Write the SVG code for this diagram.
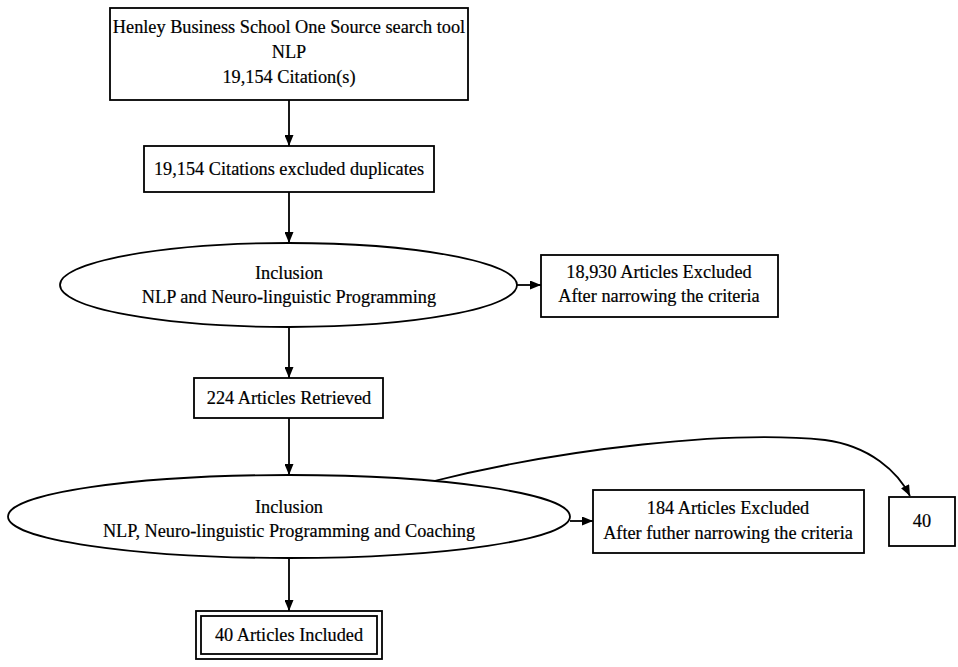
<svg xmlns="http://www.w3.org/2000/svg" width="958" height="667" viewBox="0 0 958 667">
<defs>
<style>
.n{fill:#fff;stroke:#000;stroke-width:1.8}
.t{font-family:"Liberation Serif",serif;font-size:18.3px;fill:#000;text-anchor:middle;stroke:#000;stroke-width:0.2}
.e{fill:none;stroke:#000;stroke-width:1.8}
</style>
<marker id="ah" markerWidth="11" markerHeight="9" refX="11" refY="4.5" orient="auto" markerUnits="userSpaceOnUse">
<path d="M0,0 L11,4.5 L0,9 z" fill="#000"/>
</marker>
</defs>
<rect width="958" height="667" fill="#fff"/>
<g id="connectors">
<path class="e" d="M289,100 V146" marker-end="url(#ah)"/>
<path class="e" d="M289,192 V243" marker-end="url(#ah)"/>
<path class="e" d="M517,285 H541" marker-end="url(#ah)"/>
<path class="e" d="M289,327 V378" marker-end="url(#ah)"/>
<path class="e" d="M289,418 V475" marker-end="url(#ah)"/>
<path class="e" d="M570,521 H593" marker-end="url(#ah)"/>
<path class="e" d="M289,558 V611" marker-end="url(#ah)"/>
<path class="e" d="M430,482 C565,448 730,430 825,440 C870,446 898,472 910,496" marker-end="url(#ah)"/>
</g>
<g id="n1"><rect class="n" x="110" y="8" width="358" height="92"/>
<text class="t" x="289" y="33">Henley Business School One Source search tool</text>
<text class="t" x="289" y="58">NLP</text>
<text class="t" x="289" y="83">19,154  Citation(s)</text></g>
<g id="n2"><rect class="n" x="144" y="146" width="290" height="46"/>
<text class="t" x="289" y="175">19,154 Citations excluded duplicates</text></g>
<g id="n3"><ellipse class="n" cx="288.5" cy="285" rx="228.5" ry="42"/>
<text class="t" x="289" y="279">Inclusion</text>
<text class="t" x="289" y="303">NLP and Neuro-linguistic Programming</text></g>
<g id="n4"><rect class="n" x="541" y="255" width="237" height="62"/>
<text class="t" x="659" y="278">18,930 Articles Excluded</text>
<text class="t" x="659" y="302">After narrowing the criteria</text></g>
<g id="n5"><rect class="n" x="194" y="378" width="189" height="40"/>
<text class="t" x="289" y="404">224 Articles Retrieved</text></g>
<g id="n6"><ellipse class="n" cx="289" cy="516.5" rx="281" ry="41.5"/>
<text class="t" x="289" y="513">Inclusion</text>
<text class="t" x="289" y="537">NLP, Neuro-linguistic Programming and Coaching</text></g>
<g id="n7"><rect class="n" x="593" y="490" width="271" height="63"/>
<text class="t" x="728" y="514">184 Articles Excluded</text>
<text class="t" x="728" y="539">After futher narrowing the criteria</text></g>
<g id="n8"><rect class="n" x="889" y="497" width="66" height="49"/>
<text class="t" x="922" y="527">40</text></g>
<g id="n9"><rect class="n" x="196" y="611" width="186" height="48"/>
<rect class="n" x="201" y="616" width="176" height="38"/>
<text class="t" x="289" y="641">40 Articles Included</text></g>
</svg>
